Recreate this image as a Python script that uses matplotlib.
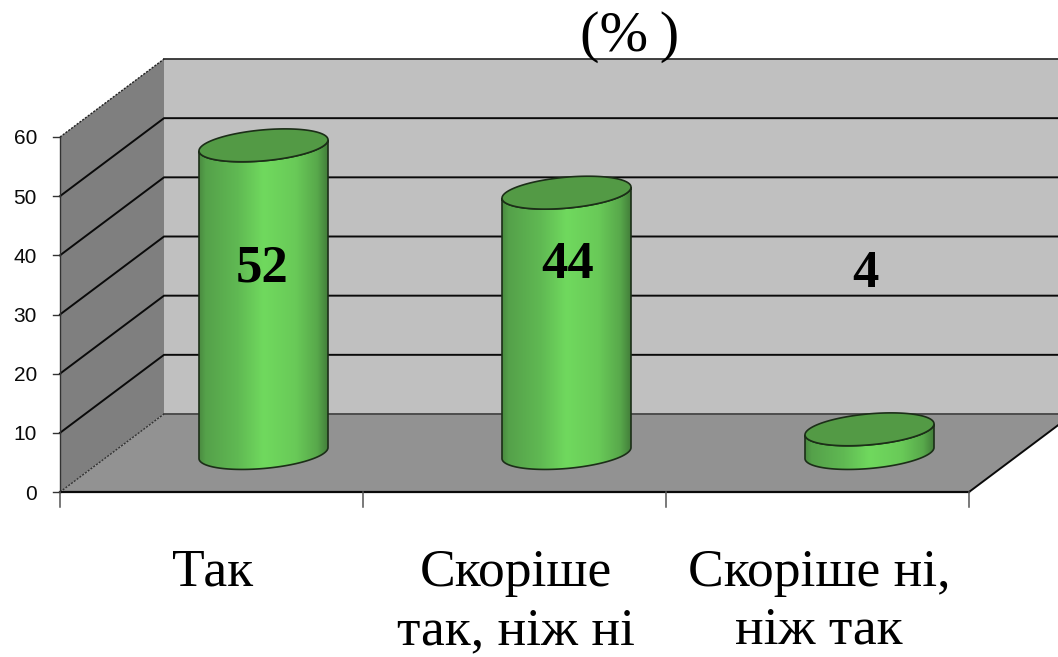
import numpy as np
import matplotlib
matplotlib.use("Agg")
import matplotlib.pyplot as plt
from matplotlib.colors import LinearSegmentedColormap
from matplotlib.patches import Polygon

categories = ["Так", "Скоріше\nтак, ніж ні", "Скоріше ні,\nніж так"]
values = [52, 44, 4]
value_labels = ["52", "44", "4"]
y_ticks = [0, 10, 20, 30, 40, 50, 60]
title = "(%\u2009)"

# layout (pixels of the 1058x657 figure)
X0, Y0, BAND, UNIT = 60.0, 492.0, 303.0, 355.0 / 60
DX, DY = 104.0, 78.0
RX, RY, TILT = 64.5, 15.5, 5.5
label_px = [(262, 266), (568, 263), (865, 272)]
cat_x = [213, 516, 819]


def proj(cat, val, depth=0.0):
    """cat in band units, val in chart units, depth 0..1 -> pixels"""
    return X0 + BAND * cat + DX * depth, Y0 - UNIT * val - DY * depth


fig = plt.figure(figsize=(10.58, 6.57), dpi=100, facecolor="white")
ax = fig.add_axes([0, 0, 1, 1])
ax.set_xlim(0, 1058)
ax.set_ylim(657, 0)
ax.axis("off")

n = len(categories)
top = y_ticks[-1]
# walls and floor
ax.add_patch(Polygon([proj(0, 0, 1), proj(n, 0, 1), proj(n, top, 1), proj(0, top, 1)],
                     fc="#c0c0c0", ec="none", zorder=1))
ax.add_patch(Polygon([proj(0, 0), proj(0, 0, 1), proj(0, top, 1), proj(0, top)],
                     fc="#7f7f7f", ec="none", zorder=1))
ax.add_patch(Polygon([proj(0, 0), proj(n, 0), proj(n, 0, 1), proj(0, 0, 1)],
                     fc="#929292", ec="none", zorder=1))

# gridlines
for t in y_ticks:
    a, b, c = proj(0, t), proj(0, t, 1), proj(n, t, 1)
    if t == 0:
        ax.plot(*zip(b, c), color="#4d4d4d", lw=1.4, zorder=2)
        ax.plot(*zip(a, b), color="#333333", lw=1.0, ls=(0, (1.5, 1)), zorder=2)
    elif t == top:
        ax.plot(*zip(b, c), color="#333333", lw=1.3, zorder=2)
        ax.plot(*zip(a, b), color="#222222", lw=1.0, ls=(0, (1.5, 1)), zorder=2)
    else:
        ax.plot(*zip(a, b, c), color="#0a0a0a", lw=1.4, zorder=2)
    ax.plot([a[0] - 7, a[0]], [a[1], a[1]], color="#333333", lw=1, zorder=3)
    ax.text(37, a[1] + 2, str(t), ha="right", va="center",
            fontsize=15, family="Liberation Sans", color="#0a0a0a")

# axes lines
ax.plot(*zip(proj(0, 0), proj(0, top)), color="#333333", lw=1.0, zorder=3)
ax.plot(*zip(proj(0, 0), proj(n, 0)), color="#0a0a0a", lw=1.6, zorder=3)
ax.plot(*zip(proj(n, 0), proj(n, 0, 1)), color="#0a0a0a", lw=1.4, zorder=3)
for i in range(n + 1):
    x, y = proj(i, 0)
    ax.plot([x, x], [y, y + 15], color="#555555", lw=1.1, zorder=3)

cmap = LinearSegmentedColormap.from_list("cyl", [
    (0.0, "#4a8a40"), (0.05, "#55a14a"), (0.3, "#60b953"), (0.5, "#70d95e"),
    (0.75, "#69ca58"), (0.92, "#58a84b"), (1.0, "#437f3a")])
grad = np.linspace(0, 1, 256).reshape(1, -1)

t_arc = np.linspace(0, 2 * np.pi, 181)


def ell(cx, cy, t):
    return cx + RX * np.cos(t), cy + RY * np.sin(t) - TILT * np.cos(t)


for i, v in enumerate(values):
    cx, cb = proj(i + 0.5, 0, 0.5)
    _, ct = proj(i + 0.5, v, 0.5)
    tf = np.linspace(0, np.pi, 91)
    xb, yb = ell(cx, cb, tf)
    xt, yt = ell(cx, ct, tf[::-1])
    verts = np.column_stack([np.r_[xb, xt], np.r_[yb, yt]])
    ax.add_patch(Polygon(verts, closed=True, fc="none", ec="#1c2e18", lw=1.2, zorder=5))
    im = ax.imshow(grad, cmap=cmap, aspect="auto", zorder=4, interpolation="bilinear",
                   extent=(cx - RX, cx + RX, cb + 30, ct - 30))
    im.set_clip_path(Polygon(verts, closed=True, transform=ax.transData))
    xe, ye = ell(cx, ct, t_arc)
    ax.add_patch(Polygon(np.column_stack([xe, ye]), closed=True, fc="#539a45",
                         ec="#1c2e18", lw=1.2, zorder=6))

ax.set_xlim(0, 1058)
ax.set_ylim(657, 0)

# value labels
for (lx, ly), s in zip(label_px, value_labels):
    ax.text(lx, ly + 2, s, ha="center", va="center", fontsize=38, fontweight="bold",
            family="Liberation Serif", color="black", zorder=8)

# category labels
for cx, s in zip(cat_x, categories):
    ax.text(cx, 549, s, ha="center", va="top", fontsize=38.5, linespacing=1.27,
            family="Liberation Serif", color="black", zorder=8)

ax.text(630, 37, title, ha="center", va="center", fontsize=42,
        family=["Liberation Serif", "DejaVu Serif"], color="black", zorder=8)

fig.savefig("out.png", dpi=100, facecolor="white")
